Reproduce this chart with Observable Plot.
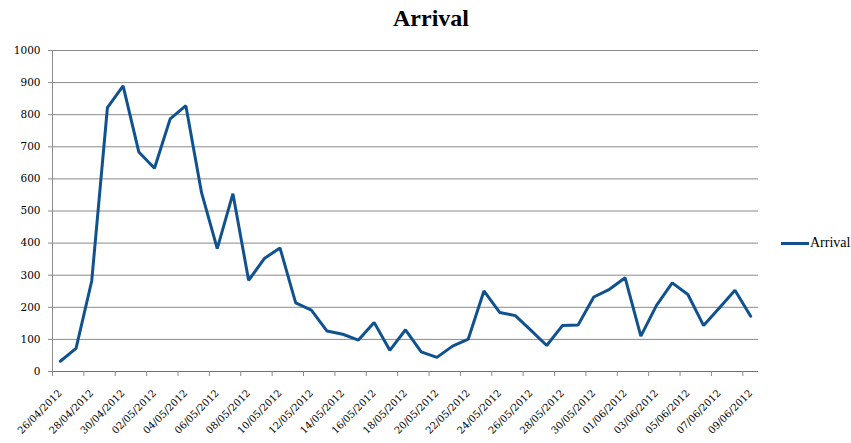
<!DOCTYPE html>
<html><head><meta charset="utf-8">
<script src="https://cdn.jsdelivr.net/npm/d3@7"></script>
<script src="https://cdn.jsdelivr.net/npm/@observablehq/plot@0.6"></script>
<style>
body{margin:0;background:#fff;}
#wrap{position:relative;width:851px;height:443px;overflow:hidden;}
#title{position:absolute;left:0;top:5px;width:862px;text-align:center;font:bold 24px "Liberation Serif",serif;color:#000;}
#legend{position:absolute;left:781px;top:235px;font:14px "Liberation Serif",serif;display:flex;align-items:center;color:#000;}
#legend span.sw{display:inline-block;width:28px;height:3px;background:#10528f;margin-right:1px;}
</style></head>
<body>
<div id="wrap">
<div id="chart"></div>
<div id="title">Arrival</div>
<div id="legend"><span class="sw"></span><span id="lg"></span></div>
</div>
<script>
const seriesName = "Arrival";
const dates = ["2012-04-26","2012-04-27","2012-04-28","2012-04-29","2012-04-30",
"2012-05-01","2012-05-02","2012-05-03","2012-05-04","2012-05-05","2012-05-06","2012-05-07","2012-05-08","2012-05-09","2012-05-10",
"2012-05-11","2012-05-12","2012-05-13","2012-05-14","2012-05-15","2012-05-16","2012-05-17","2012-05-18","2012-05-19","2012-05-20",
"2012-05-21","2012-05-22","2012-05-23","2012-05-24","2012-05-25","2012-05-26","2012-05-27","2012-05-28","2012-05-29","2012-05-30","2012-05-31",
"2012-06-01","2012-06-02","2012-06-03","2012-06-04","2012-06-05","2012-06-06","2012-06-07","2012-06-08","2012-06-09"];
const values = [32,72,282,822,890,684,633,787,828,557,383,554,284,352,385,214,191,126,116,98,153,66,130,61,44,79,101,251,184,174,128,81,143,145,232,256,292,110,206,276,240,143,198,253,172];
const yTicks = [0,100,200,300,400,500,600,700,800,900,1000];
const axisStart = "2012-04-26", axisEnd = "2012-06-10";

const data = dates.map((d,i)=>({date:new Date(d), value:values[i]}));
const HALF_DAY = 12*3600*1000;
const tickDates = dates.filter((d,i)=>i%2===0).map(d=>new Date(d));
const labelDates = tickDates.map(d=>new Date(+d+HALF_DAY));
const fmt = d3.utcFormat("%d/%m/%Y");

document.getElementById("lg").textContent = seriesName;

const chart = Plot.plot({
  width: 851, height: 443,
  marginLeft: 52, marginRight: 93, marginTop: 50, marginBottom: 72,
  style: {fontFamily: "'DejaVu Serif', serif", fontSize: "10.5px", background: "transparent", color: "#000"},
  x: {type: "utc", domain: [new Date(axisStart), new Date(axisEnd)], label: null},
  y: {domain: [0, 1000], label: null},
  marks: [
    Plot.gridY(yTicks, {stroke: "#8a8a8a", strokeOpacity: 1, strokeWidth: 1}),
    Plot.ruleX([new Date(axisStart)], {stroke: "#8a8a8a"}),
    Plot.ruleY([0], {stroke: "#707070"}),
    Plot.axisY(yTicks, {tickSize: 4, tickPadding: 8, stroke: "#8a8a8a", fill: "#000", tickFormat: d3.format("d"), label: null}),
    Plot.axisX(tickDates, {tickSize: 5, stroke: "#8a8a8a", tickFormat: () => "", label: null}),
    Plot.axisX(labelDates, {tickSize: 0, tickPadding: 20, tickRotate: -45, textAnchor: "end", fontSize: 10, tickFormat: d => fmt(new Date(+d - HALF_DAY)), fill: "#000", label: null}),
    Plot.line(data, {x: d => new Date(+d.date + HALF_DAY), y: "value", stroke: "#10528f", strokeWidth: 3, strokeLinejoin: "miter"})
  ]
});
document.getElementById("chart").appendChild(chart);
</script>
</body></html>
